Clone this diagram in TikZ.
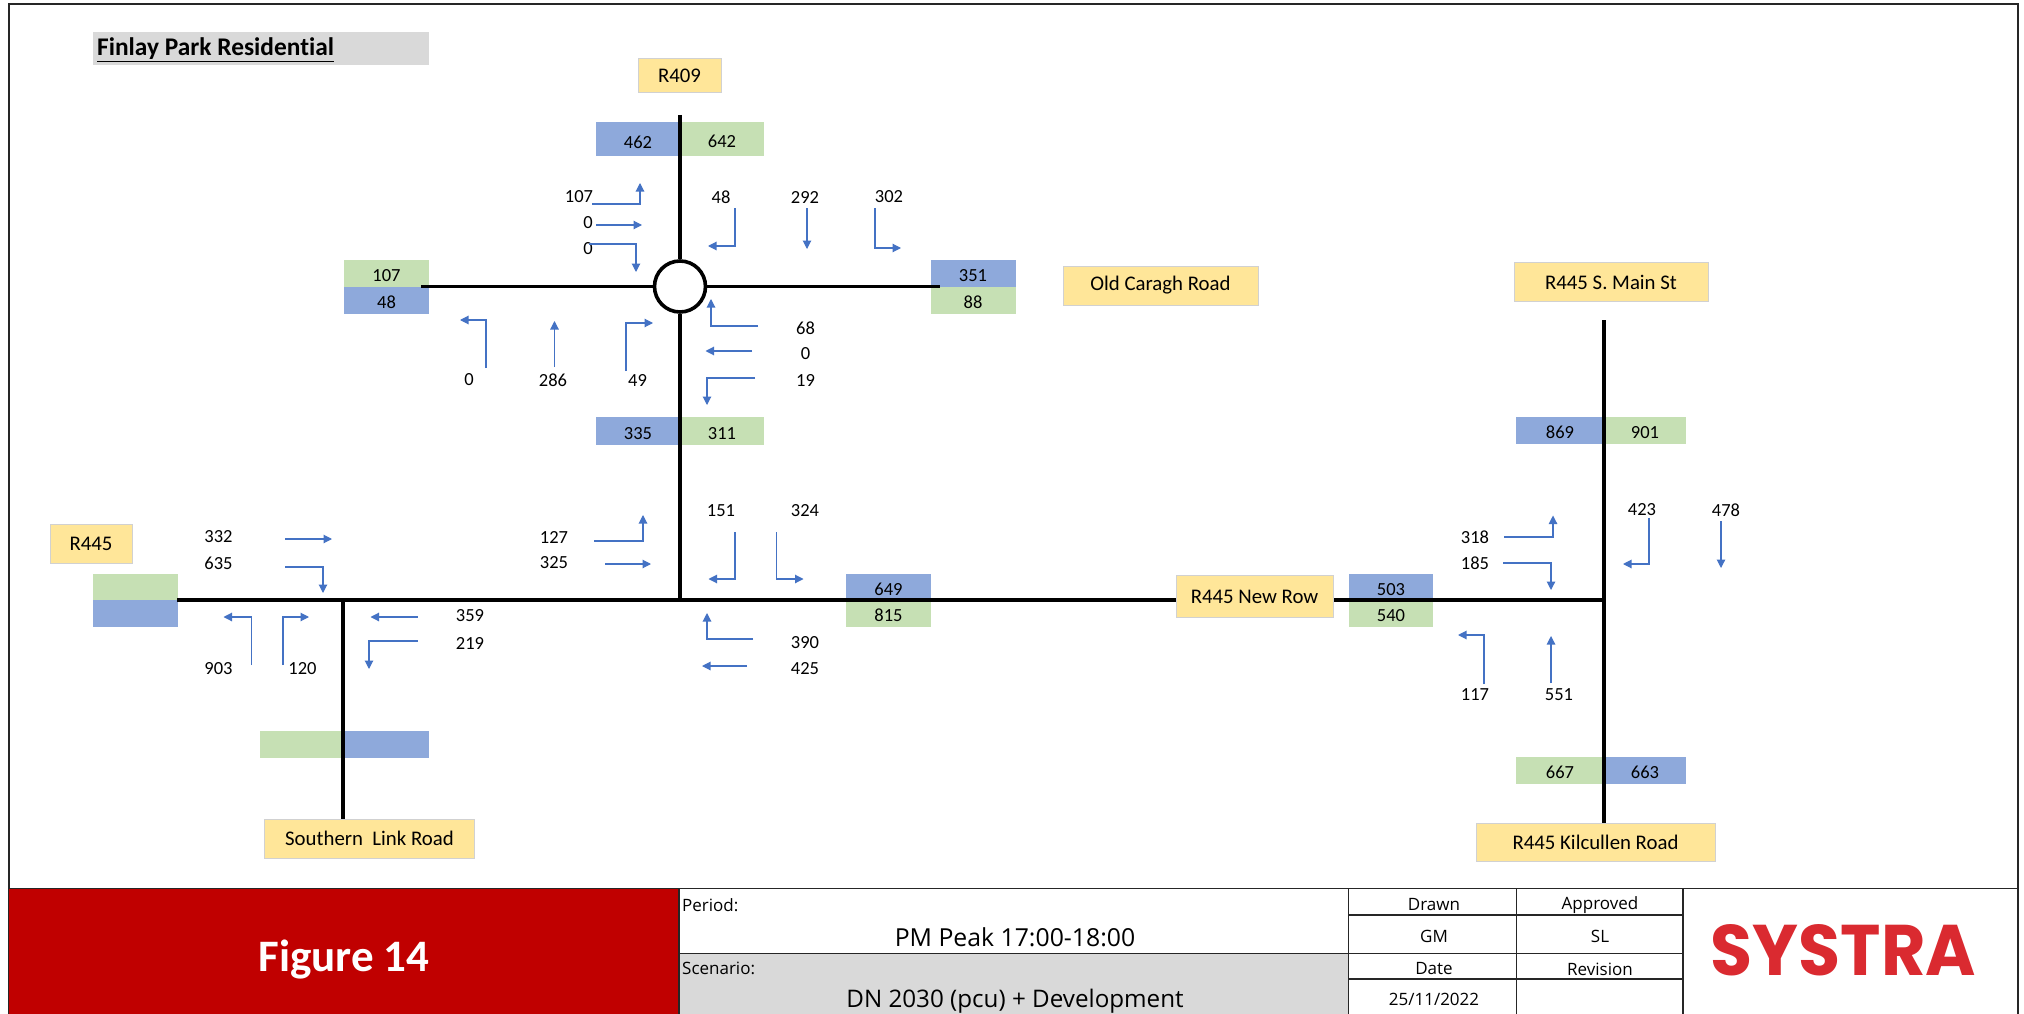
\documentclass[tikz,border=0pt]{standalone}
\usepackage{fontspec}
\usepackage{graphicx}
\usepackage{xcolor}
\usetikzlibrary{arrows.meta}
\setmainfont{Carlito}[Ligatures=CommonOff]
\newfontfamily\tablefont{Open Sans}
\newfontfamily\logofont{Poppins}
\definecolor{roadyellow}{HTML}{FFE699}
\definecolor{cellblue}{HTML}{8EA9DB}
\definecolor{cellgreen}{HTML}{C6E0B4}
\definecolor{flowblue}{HTML}{4472C4}
\definecolor{figred}{HTML}{C00000}
\definecolor{logored}{HTML}{DA2A30}
\definecolor{lightgrey}{HTML}{D9D9D9}

\begin{document}
\begin{tikzpicture}[
		x=1pt,
		y=-1pt,
		road/.style={
			line width=3.6pt,
			black
		},
		flow/.style={
			-{Triangle[length=8.5pt,width=8.5pt]},
			line width=1.1pt,
			flowblue
		},
		count/.style={
			inner sep=0pt,
			yshift=-1pt,
			font=\fontsize{18.5}{22}\selectfont
		},
		roadname/.style={
			rectangle,
			draw=black!18,
			line width=1pt,
			fill=roadyellow,
			inner sep=0pt,
			font=\fontsize{20.8}{24}\selectfont
		},
		bluecell/.style={
			rectangle,
			fill=cellblue,
			inner sep=0pt,
			minimum width=85pt,
			minimum height=27pt,
			text height=16pt,
			text depth=0pt,
			font=\fontsize{18.5}{22}\selectfont
		},
		greencell/.style={
			bluecell,
			fill=cellgreen
		},
		grid/.style={
			line width=1.7pt,
			black!85
		},
		tabletext/.style={
			inner sep=0pt,
			font=\tablefont\fontsize{17}{20}\selectfont
		},
		tablelabel/.style={
			inner sep=0pt,
			anchor=west,
			font=\tablefont\fontsize{17}{20}\selectfont
		},
		tablemain/.style={
			inner sep=0pt,
			font=\tablefont\fontsize{24.8}{29}\selectfont
		}
		]
		\useasboundingbox (0,0) rectangle (2024,1014);
		\fill[white] (0,0) rectangle (2024,1014);
		\draw[line width=1.6pt, black!85] (9,4) rectangle (2018,1016);
		
		% title
		\fill[lightgrey] (93,32) rectangle (429,65);
		\node[inner sep=0pt, anchor=west, font=\fontsize{25.4}{29}\selectfont\bfseries] (title) at (97,50) {\underline{Finlay Park Residential}};
		
		% count cells
		\node[bluecell, minimum height=34pt, minimum width=84pt, text height=20pt] (c462) at (638,139) {462};
		\node[greencell, minimum height=34pt, minimum width=84pt] (c642) at (722,139) {642};
		\node[bluecell, minimum width=84pt, minimum height=28pt] (c335) at (638,431) {335};
		\node[greencell, minimum width=84pt, minimum height=28pt] (c311) at (722,431) {311};
		\node[greencell] (c107) at (386.5,273) {107};
		\node[bluecell] (c48) at (386.5,300) {48};
		\node[bluecell] (c351) at (973,273) {351};
		\node[greencell] (c88) at (973,300) {88};
		\node[greencell] (wgreen) at (135,587) {};
		\node[bluecell] (wblue) at (135,613.5) {};
		\node[bluecell] (c649) at (888.5,587) {649};
		\node[greencell] (c815) at (888.5,613.5) {815};
		\node[bluecell, minimum width=84pt] (c503) at (1391,587) {503};
		\node[greencell, minimum width=84pt] (c540) at (1391,613.5) {540};
		\node[bluecell, minimum width=88pt] (c869) at (1560,430) {869};
		\node[greencell, minimum width=82pt] (c901) at (1645,430) {901};
		\node[greencell, minimum width=88pt] (c667) at (1560,770.5) {667};
		\node[bluecell, minimum width=82pt] (c663) at (1645,770.5) {663};
		\node[greencell, minimum width=83pt] (sgreen) at (301.5,744.5) {};
		\node[bluecell, minimum width=86pt] (sblue) at (386,744.5) {};
		
		% road ends and junctions
		\coordinate (ntop) at (680,115);
		\coordinate (wend) at (421,286.5);
		\coordinate (eend) at (940,286.5);
		\coordinate (jsouth) at (343,600);
		\coordinate (jmid) at (680,600);
		\coordinate (jeast) at (1604,600);
		\coordinate (mtop) at (1604,320);
		\coordinate (wroad) at (177,600);
		\coordinate (ssouth) at (343,819);
		\coordinate (ksouth) at (1604,824);
		
		% roads
		\node[circle, draw, line width=3.6pt, fill=white, minimum size=51pt, inner sep=0pt] (rbt) at (680,286.5) {};
		\draw[road] (ntop) -- (rbt);
		\draw[road] (wend) -- (rbt);
		\draw[road] (rbt) -- (eend);
		\draw[road] (rbt) -- (jmid);
		\draw[road] (wroad) -- (jsouth);
		\draw[road] (jsouth) -- (jmid);
		\draw[road] (jmid) -- (jeast);
		\draw[road] (jsouth) -- (ssouth);
		\draw[road] (mtop) -- (ksouth);
		
		% road names
		\node[roadname, minimum width=83pt, minimum height=34pt] (r409) at (679.5,75.5) {R409};
		\node[roadname, minimum width=195pt, minimum height=39pt] (oldcaragh) at (1160.5,285.5) {Old Caragh Road};
		\node[roadname, minimum width=194pt, minimum height=39pt] (mainst) at (1611,282) {R445 S. Main St};
		\node[roadname, minimum width=82pt, minimum height=39pt] (r445) at (91,543.5) {R445};
		\node[roadname, minimum width=157pt, minimum height=42pt] (newrow) at (1254.5,596.5) {R445 New Row};
		\node[roadname, minimum width=210pt, minimum height=39pt] (slink) at (369.5,838.5) {Southern\ \ Link Road};
		\node[roadname, minimum width=239pt, minimum height=38pt] (kilcullen) at (1595.5,842.5) {R445 Kilcullen Road};
		
		% labels north junction
		\node[count] (l107) at (579,196) {107};
		\node[count] (l0a) at (588,222) {0};
		\node[count] (l0b) at (588,248) {0};
		\node[count] (l48) at (721,196) {48};
		\node[count] (l292) at (805,196) {292};
		\node[count] (l302) at (889,196) {302};
		\node[count] (l68) at (805.5,327) {68};
		\node[count] (l0c) at (805.5,353) {0};
		\node[count] (l19) at (805.5,379) {19};
		\node[count] (l0d) at (469,379) {0};
		\node[count] (l286) at (553,379) {286};
		\node[count] (l49) at (637.5,379) {49};
		
		% labels middle line
		\node[count] (l332) at (218.5,536) {332};
		\node[count] (l635) at (218.5,562) {635};
		\node[count] (l127) at (554,536) {127};
		\node[count] (l325) at (554,562) {325};
		\node[count] (l151) at (721,510) {151};
		\node[count] (l324) at (805,510) {324};
		\node[count] (l359) at (470,615) {359};
		\node[count] (l219) at (470,642) {219};
		\node[count] (l903) at (218.5,668) {903};
		\node[count] (l120) at (302.5,668) {120};
		\node[count] (l390) at (805,642) {390};
		\node[count] (l425) at (805,668) {425};
		
		% labels east junction
		\node[count] (l423) at (1642,509) {423};
		\node[count] (l478) at (1726,509) {478};
		\node[count] (l318) at (1475,536) {318};
		\node[count] (l185) at (1475,562) {185};
		\node[count] (l117) at (1475,694) {117};
		\node[count] (l551) at (1559,694) {551};
		
		% flows north junction
		\coordinate (s107) at (592,204); \coordinate (e107) at (640,183); \draw[flow] (s107) -| (e107);
		\coordinate (s0a) at (596,225); \coordinate (e0a) at (642,225); \draw[flow] (s0a) -- (e0a);
		\coordinate (s0b) at (589,244); \coordinate (e0b) at (636,272); \draw[flow] (s0b) -| (e0b);
		\coordinate (s48) at (735,208); \coordinate (e48) at (708,246); \draw[flow] (s48) |- (e48);
		\coordinate (s292) at (807,208); \coordinate (e292) at (807,249); \draw[flow] (s292) -- (e292);
		\coordinate (s302) at (875,208); \coordinate (e302) at (901,248); \draw[flow] (s302) |- (e302);
		\coordinate (s68) at (758,326); \coordinate (e68) at (711,299); \draw[flow] (s68) -| (e68);
		\coordinate (s0c) at (752,351); \coordinate (e0c) at (705.5,351); \draw[flow] (s0c) -- (e0c);
		\coordinate (s19) at (755,378); \coordinate (e19) at (707,405); \draw[flow] (s19) -| (e19);
		\coordinate (s0d) at (486,368); \coordinate (e0d) at (460,320); \draw[flow] (s0d) |- (e0d);
		\coordinate (s286) at (554.5,367); \coordinate (e286) at (554.5,321); \draw[flow] (s286) -- (e286);
		\coordinate (s49) at (626,371); \coordinate (e49) at (653,323); \draw[flow] (s49) |- (e49);
		
		% flows middle line
		\coordinate (s332) at (285,539); \coordinate (e332) at (332,539); \draw[flow] (s332) -- (e332);
		\coordinate (s635) at (285,567); \coordinate (e635) at (323,593); \draw[flow] (s635) -| (e635);
		\coordinate (s127) at (594,541); \coordinate (e127) at (643,515); \draw[flow] (s127) -| (e127);
		\coordinate (s325) at (605,564); \coordinate (e325) at (651,564); \draw[flow] (s325) -- (e325);
		\coordinate (s151) at (735,532); \coordinate (e151) at (708.5,579); \draw[flow] (s151) |- (e151);
		\coordinate (s324) at (776.5,532); \coordinate (e324) at (803.5,579); \draw[flow] (s324) |- (e324);
		\coordinate (s903) at (251.5,665); \coordinate (e903) at (223.5,617); \draw[flow] (s903) |- (e903);
		\coordinate (s120) at (283,665); \coordinate (e120) at (309,617); \draw[flow] (s120) |- (e120);
		\coordinate (s359) at (417.5,617); \coordinate (e359) at (370.5,617); \draw[flow] (s359) -- (e359);
		\coordinate (s219) at (417.5,641); \coordinate (e219) at (369,669); \draw[flow] (s219) -| (e219);
		\coordinate (s390) at (753,639); \coordinate (e390) at (707,613); \draw[flow] (s390) -| (e390);
		\coordinate (s425) at (747,666); \coordinate (e425) at (702,666); \draw[flow] (s425) -- (e425);
		
		% flows east junction
		\coordinate (s318) at (1504,537); \coordinate (e318) at (1553,515.5); \draw[flow] (s318) -| (e318);
		\coordinate (s185) at (1503,563); \coordinate (e185) at (1551,590); \draw[flow] (s185) -| (e185);
		\coordinate (s423) at (1649,517.5); \coordinate (e423) at (1623,564); \draw[flow] (s423) |- (e423);
		\coordinate (s478) at (1721,521); \coordinate (e478) at (1721,568); \draw[flow] (s478) -- (e478);
		\coordinate (s117) at (1484,684); \coordinate (e117) at (1458,635); \draw[flow] (s117) |- (e117);
		\coordinate (s551) at (1551,683); \coordinate (e551) at (1551,636); \draw[flow] (s551) -- (e551);
		
		% bottom table
		\fill[figred] (9,889) rectangle (679,1014);
		\fill[lightgrey] (679,954) rectangle (1348,1014);
		\draw[grid] (9,888.5) -- (2018,888.5);
		\draw[grid] (679,953.5) -- (1683,953.5);
		\draw[grid] (1348,915) -- (1683,915);
		\draw[grid] (1348,979) -- (1683,979);
		\draw[grid] (679,889) -- (679,1014);
		\draw[grid] (1348.5,889) -- (1348.5,1014);
		\draw[grid] (1516.5,889) -- (1516.5,1014);
		\draw[grid] (1683,889) -- (1683,1014);
		
		\node[inner sep=0pt, text=white, font=\fontsize{45}{50}\selectfont\bfseries] (figno) at (344,960) {Figure 14};
		\node[tablelabel] (period) at (682,905) {Period:};
		\node[tablelabel] (scenario) at (682,968) {Scenario:};
		\node[tablemain] (peak) at (1015,937) {PM Peak 17:00-18:00};
		\node[tablemain, font=\tablefont\fontsize{24.2}{29}\selectfont] (dn) at (1015,1001) {DN 2030 (pcu) + Development};
		\node[tabletext] (drawn) at (1434,905) {Drawn};
		\node[tabletext] (approved) at (1600,905) {Approved};
		\node[tabletext] (gm) at (1434,936) {GM};
		\node[tabletext] (sl) at (1600,936) {SL};
		\node[tabletext] (date) at (1434,969) {Date};
		\node[tabletext] (revision) at (1600,969) {Revision};
		\node[tabletext] (dated) at (1434,999) {25/11/2022};
		\node[inner sep=0pt, text=logored] (systra) at (1843.5,950.5) {\resizebox{265pt}{51pt}{\logofont\bfseries SYSTRA}};
		
	\end{tikzpicture}
\end{document}
